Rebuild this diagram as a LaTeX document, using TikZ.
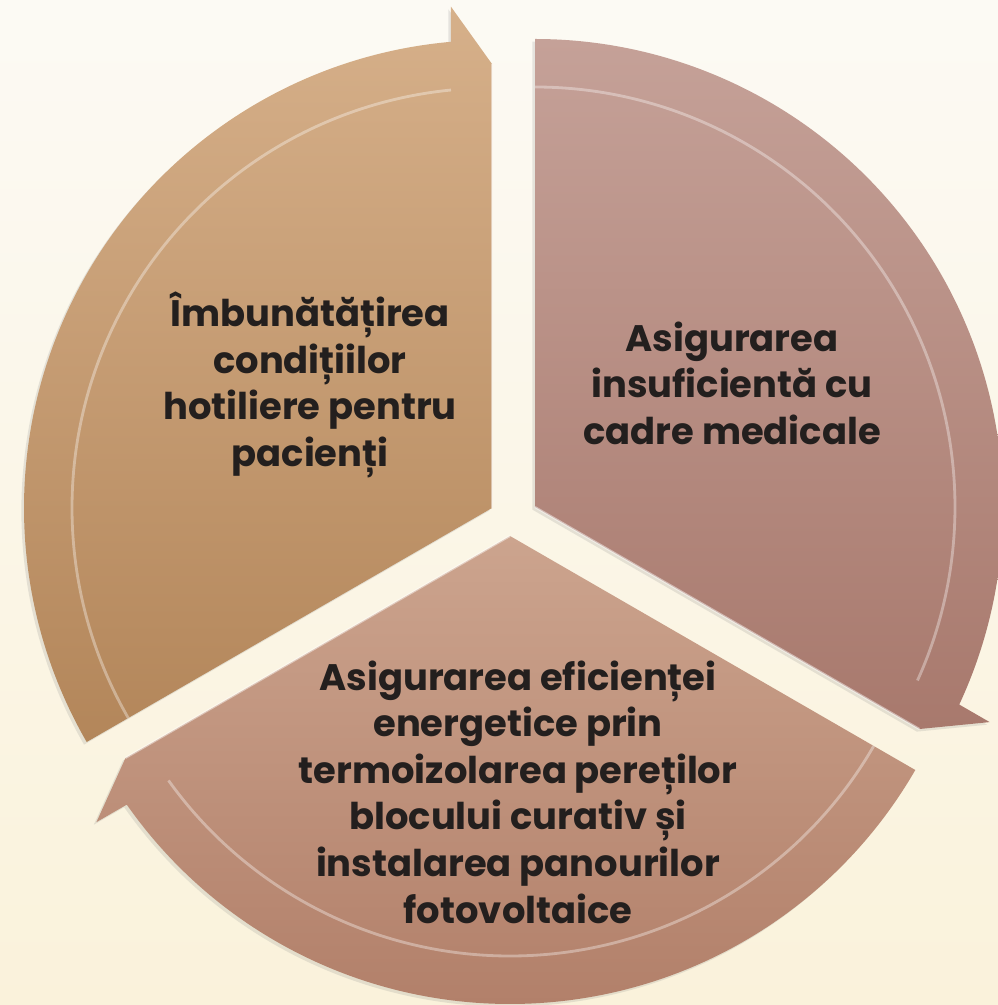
\documentclass[tikz,border=0pt]{standalone}
\usepackage{fontspec}
\setmainfont{Poppins}
\usetikzlibrary{shadows}

\definecolor{tantop}{HTML}{D6B08A}
\definecolor{tanbot}{HTML}{B3865A}
\definecolor{rosetop}{HTML}{C5A198}
\definecolor{rosebot}{HTML}{A8796D}
\definecolor{claytop}{HTML}{CCA48E}
\definecolor{claybot}{HTML}{B07D67}
\definecolor{paperhi}{HTML}{FCFAF4}
\definecolor{paperlo}{HTML}{FAF2DB}
\definecolor{ink}{HTML}{231F1E}

\tikzset{
  tanpart/.style={top color=tantop, bottom color=tanbot},
  rosepart/.style={top color=rosetop, bottom color=rosebot},
  claypart/.style={top color=claytop, bottom color=claybot},
  softshadow/.style={drop shadow={opacity=.18, shadow xshift=-1.5pt, shadow yshift=-1.5pt}},
  rim/.style={white, opacity=.35, line width=1.6pt},
  edgerim/.style={white, opacity=.45, line width=1.2pt},
  seglabel/.style={text=ink, align=center, font=\bfseries\fontsize{21}{26.5}\selectfont}
}

\begin{document}
\begin{tikzpicture}[x=0.02cm,y=0.02cm]
\shade[top color=paperhi, bottom color=paperlo] (0,0) rectangle (998,1005);
\useasboundingbox (0,0) rectangle (998,1005);

% left part, arrow ends at the top
\begin{scope}[shift={(492,497)}]
\shade[tanpart, softshadow] (0,0) -- (90:444) arc[start angle=90, end angle=210, radius=444] -- cycle
  (95.03:468) arc[start angle=95.03, end angle=210, radius=468] -- (210:420)
  arc[start angle=210, end angle=95.6, radius=420] -- (96.08:387) -- (90:444) -- (94.68:503) -- cycle;
\draw[rim] (210:420) arc[start angle=210, end angle=95.6, radius=420];
\draw[edgerim] (0,0) -- (90:444);
\end{scope}

% right part, arrow ends at the lower right
\begin{scope}[shift={(535,498)}]
\shade[rosepart, softshadow] (0,0) -- (-30:444) arc[start angle=-30, end angle=90, radius=444] -- cycle
  (-24.97:468) arc[start angle=-24.97, end angle=90, radius=468] -- (90:420)
  arc[start angle=90, end angle=-24.4, radius=420] -- (-23.92:387) -- (-30:444) -- (-25.32:503) -- cycle;
\draw[rim] (90:420) arc[start angle=90, end angle=-24.4, radius=420];
\draw[edgerim] (0,0) -- (-30:444);
\end{scope}

% bottom part, arrow ends at the lower left
\begin{scope}[shift={(510,469)}]
\shade[claypart, softshadow] (0,0) -- (210:444) arc[start angle=210, end angle=330, radius=444] -- cycle
  (215.03:468) arc[start angle=215.03, end angle=330, radius=468] -- (330:420)
  arc[start angle=330, end angle=215.6, radius=420] -- (216.08:387) -- (210:444) -- (214.68:503) -- cycle;
\draw[rim] (330:420) arc[start angle=330, end angle=215.6, radius=420];
\draw[edgerim] (0,0) -- (210:444);
\end{scope}

\node[seglabel] (hotel) at (310,620) {Îmbunătățirea\\condițiilor\\hotiliere pentru\\pacienți};
\node[seglabel] (staff) at (732,622) {Asigurarea\\insuficientă cu\\cadre medicale};
\node[seglabel] (energy) at (518,213) {Asigurarea eficienței\\energetice prin\\termoizolarea pereților\\blocului curativ și\\instalarea panourilor\\fotovoltaice};
\end{tikzpicture}
\end{document}
